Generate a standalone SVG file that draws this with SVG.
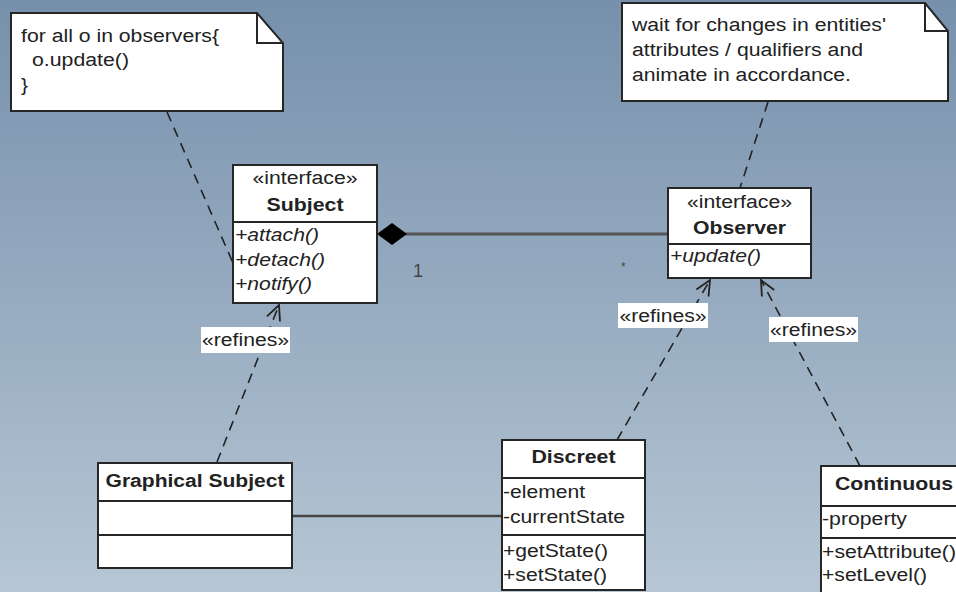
<svg xmlns="http://www.w3.org/2000/svg" width="956" height="592" viewBox="0 0 956 592">
<style>
text{font-family:"Liberation Sans",Arial,sans-serif;font-size:18px;fill:#222;}
.b{font-weight:bold;}
.i{font-style:italic;}
.box{fill:#fff;stroke:#262626;stroke-width:2;}
.sep{stroke:#262626;stroke-width:2;}
.dash{fill:none;stroke:#222;stroke-width:1.6;stroke-dasharray:10 7;}
.lbl{fill:#fff;}
.assoc{stroke:#555;stroke-width:3;fill:none;}
</style>
<defs>
<linearGradient id="bg" x1="0" y1="0" x2="0" y2="1">
<stop offset="0" stop-color="#7690ac"/>
<stop offset="1" stop-color="#b6c6d4"/>
</linearGradient>
<marker id="open" markerUnits="userSpaceOnUse" markerWidth="24" markerHeight="24" viewBox="-20 -12 24 24" refX="0" refY="0" orient="auto">
<path d="M-15,-7 L0,0 L-15,7" fill="none" stroke="#222" stroke-width="1.8"/>
</marker>
</defs>
<rect width="956" height="592" fill="url(#bg)"/>

<g id="connectors">
<line class="assoc" x1="405" y1="234" x2="668" y2="234"/>
<polygon points="377,234 392,223 407,234 392,245" fill="#000"/>
<text x="413" y="277" style="fill:#444">1</text>
<text x="621" y="271" style="fill:#444;font-size:12px">*</text>
<line x1="292" y1="516" x2="502" y2="516" stroke="#444" stroke-width="2.5"/>
<line class="dash" x1="167" y1="112" x2="233" y2="263"/>
<line class="dash" x1="768" y1="102" x2="740" y2="188"/>
<line class="dash" x1="217" y1="462" x2="279" y2="305" marker-end="url(#open)"/>
<line class="dash" x1="617" y1="440" x2="710" y2="280" marker-end="url(#open)"/>
<line class="dash" x1="860" y1="466" x2="761" y2="280" marker-end="url(#open)"/>
<rect class="lbl" x="201" y="327" width="89" height="26"/>
<text x="245.5" y="346" text-anchor="middle" textLength="87" lengthAdjust="spacingAndGlyphs">«refines»</text>
<rect class="lbl" x="618" y="303" width="90" height="25"/>
<text x="663" y="322" text-anchor="middle" textLength="87" lengthAdjust="spacingAndGlyphs">«refines»</text>
<rect class="lbl" x="769" y="317" width="89" height="25"/>
<text x="813.5" y="336" text-anchor="middle" textLength="87" lengthAdjust="spacingAndGlyphs">«refines»</text>
</g>

<g id="note1">
<polygon class="box" points="11,13 257,13 283,43 283,111 11,111"/>
<polyline points="257,13 257,43 283,43" fill="none" stroke="#262626" stroke-width="2"/>
<text x="21" y="42" textLength="198" lengthAdjust="spacingAndGlyphs">for all o in observers{</text>
<text x="32" y="66" textLength="97" lengthAdjust="spacingAndGlyphs">o.update()</text>
<text x="21" y="91" textLength="7" lengthAdjust="spacingAndGlyphs">}</text>
</g>

<g id="note2">
<polygon class="box" points="622,3 925,3 948,31 948,101 622,101"/>
<polyline points="925,3 925,31 948,31" fill="none" stroke="#262626" stroke-width="2"/>
<text x="632" y="31" textLength="254" lengthAdjust="spacingAndGlyphs">wait for changes in entities'</text>
<text x="632" y="56" textLength="231" lengthAdjust="spacingAndGlyphs">attributes / qualifiers and</text>
<text x="632" y="81" textLength="219" lengthAdjust="spacingAndGlyphs">animate in accordance.</text>
</g>

<g id="subject">
<rect class="box" x="233" y="165" width="144" height="138"/>
<line class="sep" x1="233" y1="222" x2="377" y2="222"/>
<text x="305" y="184" text-anchor="middle" textLength="105" lengthAdjust="spacingAndGlyphs">«interface»</text>
<text class="b" x="305" y="211" text-anchor="middle" textLength="77" lengthAdjust="spacingAndGlyphs">Subject</text>
<text class="i" x="235" y="241" textLength="84" lengthAdjust="spacingAndGlyphs">+attach()</text>
<text class="i" x="235" y="266" textLength="90" lengthAdjust="spacingAndGlyphs">+detach()</text>
<text class="i" x="235" y="290" textLength="77" lengthAdjust="spacingAndGlyphs">+notify()</text>
</g>

<g id="observer">
<rect class="box" x="668" y="188" width="143" height="90"/>
<line class="sep" x1="668" y1="244" x2="811" y2="244"/>
<text x="739.5" y="208" text-anchor="middle" textLength="105" lengthAdjust="spacingAndGlyphs">«interface»</text>
<text class="b" x="739.5" y="234" text-anchor="middle" textLength="93" lengthAdjust="spacingAndGlyphs">Observer</text>
<text class="i" x="670" y="262" textLength="91" lengthAdjust="spacingAndGlyphs">+update()</text>
</g>

<g id="graphical-subject">
<rect class="box" x="98" y="463" width="194" height="105"/>
<line class="sep" x1="98" y1="501" x2="292" y2="501"/>
<line class="sep" x1="98" y1="535" x2="292" y2="535"/>
<text class="b" x="195" y="487" text-anchor="middle" textLength="179" lengthAdjust="spacingAndGlyphs">Graphical Subject</text>
</g>

<g id="discreet">
<rect class="box" x="502" y="440" width="143" height="150"/>
<line class="sep" x1="502" y1="478" x2="645" y2="478"/>
<line class="sep" x1="502" y1="535" x2="645" y2="535"/>
<text class="b" x="573.5" y="463" text-anchor="middle" textLength="84" lengthAdjust="spacingAndGlyphs">Discreet</text>
<text x="503" y="498" textLength="82" lengthAdjust="spacingAndGlyphs">-element</text>
<text x="503" y="523" textLength="122" lengthAdjust="spacingAndGlyphs">-currentState</text>
<text x="503" y="557" textLength="105" lengthAdjust="spacingAndGlyphs">+getState()</text>
<text x="503" y="581" textLength="104" lengthAdjust="spacingAndGlyphs">+setState()</text>
</g>

<g id="continuous">
<rect class="box" x="821" y="466" width="150" height="140"/>
<line class="sep" x1="821" y1="506" x2="956" y2="506"/>
<line class="sep" x1="821" y1="538" x2="956" y2="538"/>
<text class="b" x="835" y="490" textLength="118" lengthAdjust="spacingAndGlyphs">Continuous</text>
<text x="822" y="525" textLength="85" lengthAdjust="spacingAndGlyphs">-property</text>
<text x="822" y="558" textLength="134" lengthAdjust="spacingAndGlyphs">+setAttribute()</text>
<text x="822" y="581" textLength="105" lengthAdjust="spacingAndGlyphs">+setLevel()</text>
</g>
</svg>
